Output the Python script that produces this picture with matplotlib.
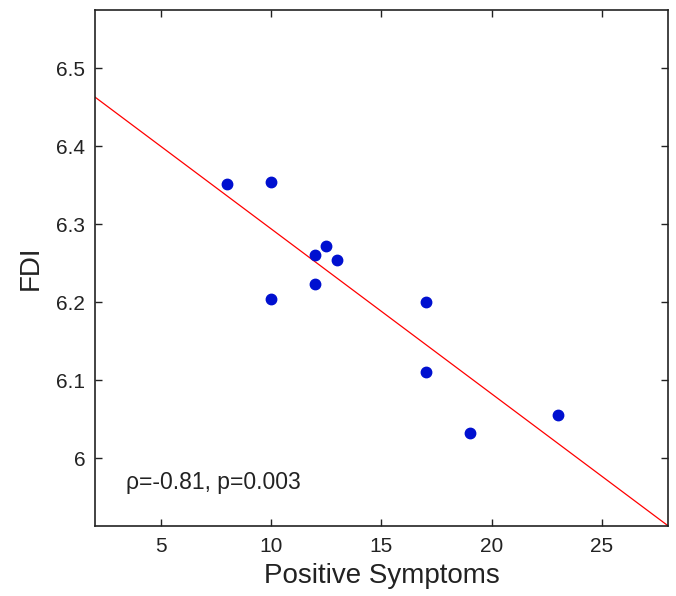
import matplotlib
matplotlib.use("Agg")
import matplotlib.pyplot as plt
import numpy as np

plt.rcParams['font.family'] = ['Liberation Sans', 'DejaVu Sans']

# Data
positive_symptoms = [8, 10, 10, 12, 12, 12.5, 13, 17, 17, 19, 23]
fdi = [6.352, 6.354, 6.204, 6.261, 6.224, 6.272, 6.254, 6.200, 6.110, 6.033, 6.056]
fit_x = [2, 28]
fit_y = [6.463, 5.9136]
x_ticks = [5, 10, 15, 20, 25]
y_ticks = [6.0, 6.1, 6.2, 6.3, 6.4, 6.5]
y_tick_labels = ["6", "6.1", "6.2", "6.3", "6.4", "6.5"]
annotation = "ρ=-0.81, p=0.003"

fig = plt.figure(figsize=(6.76, 5.96), dpi=100)
ax = fig.add_axes([0.1405, 0.118, 0.988 - 0.1405, 0.9837 - 0.118])

ax.plot(fit_x, fit_y, color='#FF0000', linewidth=0.9, zorder=2)
ax.plot(positive_symptoms, fdi, linestyle='none', marker='o', markersize=7.5,
        color='#0010D0', markeredgecolor='#0010D0', zorder=3)

ax.set_xlim(2, 28)
ax.set_ylim(5.9136, 6.575)
ax.set_xticks(x_ticks)
ax.set_yticks(y_ticks)
ax.set_yticklabels(y_tick_labels)
ax.tick_params(direction='in', top=True, right=True, length=5, width=1,
               labelsize=15, colors='#222222')
ax.tick_params(axis='x', pad=8)
ax.tick_params(axis='y', pad=7)
for s in ax.spines.values():
    s.set_linewidth(1.2)
    s.set_color('#222222')

ax.set_xlabel("Positive Symptoms", fontsize=20, color='#222222', labelpad=5)
ax.set_ylabel("FDI", fontsize=20, color='#222222', labelpad=9)
ax.text(3.4, 5.961, annotation, fontsize=16.5, color='#222222', ha='left', va='baseline')

fig.savefig("out.png", dpi=100)
